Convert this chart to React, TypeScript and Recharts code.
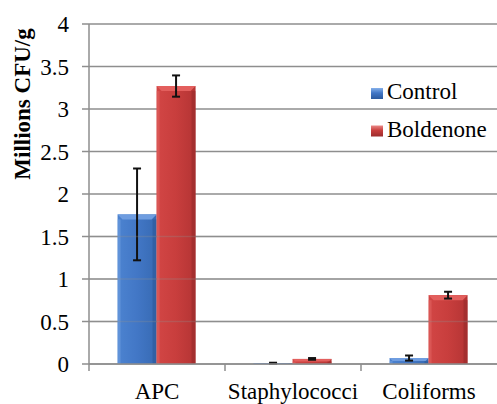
import React from 'react';
import { BarChart, Bar, XAxis, YAxis, CartesianGrid, ErrorBar, Legend, ReferenceLine } from 'recharts';

const categories = ['APC', 'Staphylococci', 'Coliforms'];
const controlValues = [1.76, 0.01, 0.07];
const controlErrors = [0.54, 0.005, 0.03];
const boldenoneValues = [3.27, 0.06, 0.81];
const boldenoneErrors = [0.125, 0.01, 0.04];
const yTicks = [0, 0.5, 1, 1.5, 2, 2.5, 3, 3.5, 4];

const seriesNames = ['Control', 'Boldenone'];

const data = categories.map((name, i) => ({
    name,
    control: controlValues[i],
    controlErr: controlErrors[i],
    boldenone: boldenoneValues[i],
    boldenoneErr: boldenoneErrors[i],
}));

const FONT = '"Liberation Serif", serif';
const GRID = '#8e8e8e';

const palette: Record<string, { body: string; light: string; dark: string; top: string; marker: string }> = {
    blue: { body: 'url(#blueBody)', light: '#79a6e4', dark: '#2b5796', top: '#6f9de0', marker: 'url(#blueMarker)' },
    red: { body: 'url(#redBody)', light: '#e46a68', dark: '#962a2a', top: '#e35f5d', marker: 'url(#redMarker)' },
};

// bevelled bar, roughly like the Office "3-D" look
const makeShape = (key: string) => (props: any) => {
    const { x, y, width, height } = props;
    if (!height || height <= 0) return <g />;
    const c = palette[key];
    const b = Math.min(5, height / 2);
    return (
        <g>
            <rect x={x} y={y} width={width} height={height} fill={c.body} />
            <polygon
                points={`${x},${y} ${x + width},${y} ${x + width - b},${y + b} ${x + b},${y + b}`}
                fill={c.top}
            />
            <rect x={x} y={y + b} width={Math.min(3, width / 4)} height={Math.max(0, height - b)} fill={c.light} opacity={0.45} />
            <rect x={x + width - 4} y={y + b} width={4} height={Math.max(0, height - b)} fill={c.dark} opacity={0.55} />
        </g>
    );
};

const XTick = (props: any) => {
    const { x, y, payload } = props;
    const half = payload && typeof payload.offset === 'number' ? payload.offset : 68;
    return (
        <g>
            <line x1={x - half} y1={y} x2={x - half} y2={y + 7} stroke={GRID} strokeWidth={1.5} />
            <text x={x} y={y + 18.5} dy="0.71em" textAnchor="middle" fontFamily={FONT} fontSize={23} fill="#000">
                {payload.value}
            </text>
        </g>
    );
};

const renderYLabel = (props: any) => {
    const vb = props.viewBox || { x: 0, y: 24 };
    const cx = vb.x + 22;
    const cy = vb.y + 80;
    return (
        <text
            x={cx}
            y={cy}
            transform={`rotate(-90, ${cx}, ${cy})`}
            textAnchor="middle"
            dominantBaseline="central"
            fontFamily={FONT}
            fontSize={23}
            fontWeight="bold"
            fill="#000"
        >
            Millions CFU/g
        </text>
    );
};

const renderLegend = () => (
    <svg width={126} height={76} style={{ display: 'block' }}>
        <defs>
            <linearGradient id="blueMarker" x1="0" y1="0" x2="0" y2="1">
                <stop offset="0%" stopColor="#86b0ea" />
                <stop offset="45%" stopColor="#4277c6" />
                <stop offset="100%" stopColor="#2c5a9e" />
            </linearGradient>
            <linearGradient id="redMarker" x1="0" y1="0" x2="0" y2="1">
                <stop offset="0%" stopColor="#ea8886" />
                <stop offset="45%" stopColor="#c83e3d" />
                <stop offset="100%" stopColor="#9c2c2c" />
            </linearGradient>
        </defs>
        {seriesNames.map((name, i) => (
            <g key={name} transform={`translate(0, ${i * 37.5})`}>
                <rect x={1} y={16} width={12} height={11} fill={palette[i === 0 ? 'blue' : 'red'].marker} />
                <text x={17} y={27} fontFamily={FONT} fontSize={23} fill="#000">
                    {name}
                </text>
            </g>
        ))}
    </svg>
);

export default function App() {
    return (
        <div style={{ position: 'absolute', left: 0, top: 0, background: '#fff' }}>
            <BarChart
                width={497}
                height={404}
                data={data}
                margin={{ top: 24, right: 0, left: 0, bottom: 0 }}
                barCategoryGap="21%"
                barGap={0}
            >
                <defs>
                    <linearGradient id="blueBody" x1="0" y1="0" x2="1" y2="0">
                        <stop offset="0%" stopColor="#4c83d0" />
                        <stop offset="50%" stopColor="#4277c6" />
                        <stop offset="100%" stopColor="#376ab3" />
                    </linearGradient>
                    <linearGradient id="redBody" x1="0" y1="0" x2="1" y2="0">
                        <stop offset="0%" stopColor="#d24645" />
                        <stop offset="50%" stopColor="#c83e3d" />
                        <stop offset="100%" stopColor="#b43434" />
                    </linearGradient>
                </defs>
                <CartesianGrid vertical={false} stroke={GRID} strokeWidth={1.5} />
                <XAxis
                    dataKey="name"
                    height={40}
                    axisLine={{ stroke: GRID, strokeWidth: 1.5 }}
                    tickLine={false}
                    tickSize={0}
                    tickMargin={0}
                    tick={<XTick />}
                    interval={0}
                />
                <YAxis
                    width={89}
                    domain={[0, 4]}
                    ticks={yTicks}
                    interval={0}
                    axisLine={{ stroke: GRID, strokeWidth: 1.5 }}
                    tickLine={{ stroke: GRID, strokeWidth: 1.5 }}
                    tickSize={7}
                    tickMargin={13}
                    tick={{ fontFamily: FONT, fontSize: 23, fill: '#000' }}
                    label={renderYLabel}
                />
                <Legend
                    layout="horizontal"
                    verticalAlign="middle"
                    align="center"
                    content={renderLegend}
                    wrapperStyle={{ left: 370, top: 72, width: 'auto' }}
                />
                <Bar dataKey="control" name="Control" fill="#4277c6" shape={makeShape('blue')} isAnimationActive={false}>
                    <ErrorBar dataKey="controlErr" direction="y" width={4} strokeWidth={2} stroke="#111" />
                </Bar>
                <Bar dataKey="boldenone" name="Boldenone" fill="#c83e3d" shape={makeShape('red')} isAnimationActive={false}>
                    <ErrorBar dataKey="boldenoneErr" direction="y" width={4} strokeWidth={2} stroke="#111" />
                </Bar>
                {yTicks.slice(1, 4).map((t) => (
                    <ReferenceLine key={t} y={t} stroke={GRID} strokeWidth={1.5} strokeOpacity={0.3} />
                ))}
            </BarChart>
        </div>
    );
}
